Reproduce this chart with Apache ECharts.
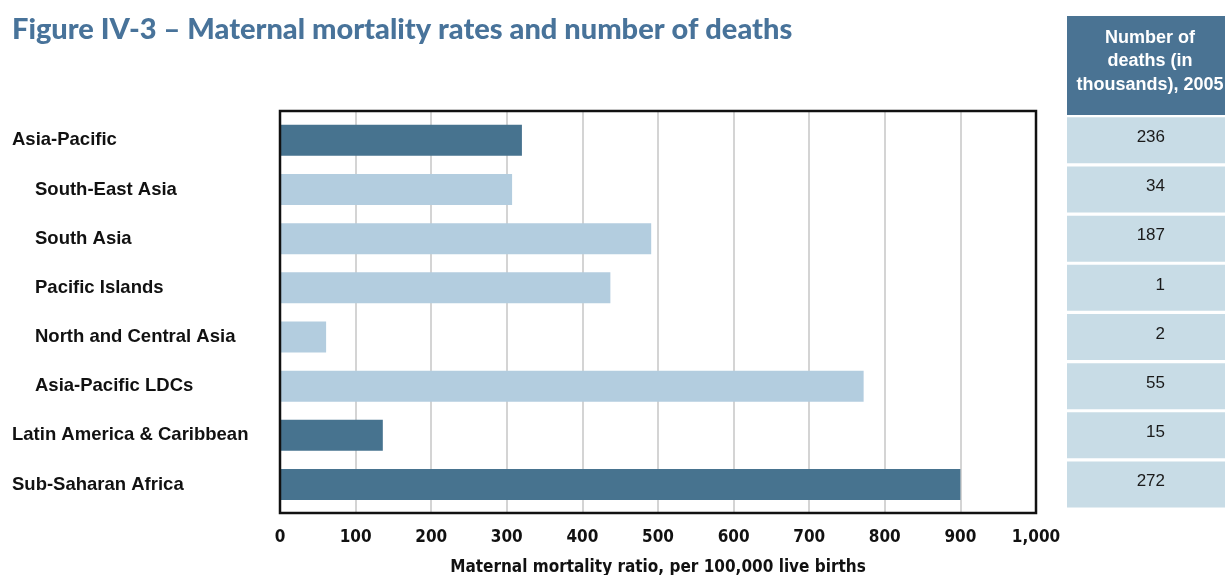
<!DOCTYPE html>
<html><head><meta charset="utf-8">
<script src="https://cdn.jsdelivr.net/npm/echarts@6/dist/echarts.min.js"></script>
<style>html,body{margin:0;padding:0;background:#fff;overflow:hidden}#c{width:1225px;height:575px}</style>
</head><body><div id="c"></div>
<script>
const categories = ['Asia-Pacific','South-East Asia','South Asia','Pacific Islands','North and Central Asia','Asia-Pacific LDCs','Latin America & Caribbean','Sub-Saharan Africa'];
const isSubregion = [false,true,true,true,true,true,false,false];
const mortalityRatio = [320,307,491,437,61,772,136,900];
const deathsThousands = [236,34,187,1,2,55,15,272];
const titleText = 'Figure IV-3 \u2013 Maternal mortality rates and number of deaths';
const xAxisName = 'Maternal mortality ratio, per 100,000 live births';
const tableHeader = 'Number of\ndeaths (in\nthousands), 2005';

const DARK = '#47738f', LIGHT = '#b3cddf', CELL = '#c8dce6', HEAD = '#4a7393';
const NARROW = '"Liberation Sans Narrow","Arial Narrow","DejaVu Sans Condensed",sans-serif';
const SANS = '"Liberation Sans",Arial,Helvetica,sans-serif';

const chart = echarts.init(document.getElementById('c'));
chart.setOption({
  animation: false,
  backgroundColor: '#fff',
  title: {
    text: titleText, left: 12, top: 15, padding: 0,
    textStyle: {fontSize: 29, fontWeight: 900, color: '#48739a', fontFamily: 'Lato,"Open Sans",sans-serif'}
  },
  grid: [
    {left: 280, top: 111, width: 756, height: 402, show: true, borderColor: '#111', borderWidth: 2.5, backgroundColor: 'transparent', z: 5, outerBoundsMode: 'none', containLabel: false},
    {left: 280, top: 115.7, width: 756, height: 393.4, outerBoundsMode: 'none', containLabel: false},
    {left: 1067, top: 115.7, width: 158, height: 393.4, outerBoundsMode: 'none', containLabel: false}
  ],
  xAxis: [
    {gridIndex: 0, type: 'value', min: 0, max: 1000, interval: 100,
     axisLine: {show: false}, axisTick: {show: false},
     axisLabel: {margin: 16, fontSize: 17, fontWeight: 'bold', color: '#111', fontFamily: NARROW,
       formatter: v => v.toLocaleString('en-US')},
     splitLine: {show: true, lineStyle: {color: '#c6c6c6', width: 1.5}},
     name: xAxisName, nameLocation: 'middle', nameGap: 46,
     nameTextStyle: {fontSize: 17, fontWeight: 'bold', color: '#111', fontFamily: NARROW}},
    {gridIndex: 1, type: 'value', min: 0, max: 1000, show: false},
    {gridIndex: 2, type: 'value', min: 0, max: 1, show: false}
  ],
  yAxis: [
    {gridIndex: 0, type: 'value', min: 0, max: 1, show: false},
    {gridIndex: 1, type: 'category', data: categories, inverse: true,
     axisLine: {show: false}, axisTick: {show: false}, splitLine: {show: false},
     axisLabel: {align: 'left', margin: 268,
       formatter: (v, i) => isSubregion[i] ? '{sub|' + v + '}' : '{top|' + v + '}',
       rich: {
         top: {fontSize: 18.5, fontWeight: 'bold', color: '#111', fontFamily: SANS},
         sub: {fontSize: 18.5, fontWeight: 'bold', color: '#111', fontFamily: SANS, padding: [0, 0, 0, 23]}
       }}},
    {gridIndex: 2, type: 'category', data: categories, inverse: true, show: false}
  ],
  graphic: [
    {type: 'rect', shape: {x: 1067, y: 16, width: 160, height: 99}, style: {fill: HEAD}, z: 10},
    {type: 'text', x: 1150, y: 61.5, z: 11,
     style: {text: tableHeader, fill: '#fff', font: 'bold 18px ' + SANS, align: 'center', verticalAlign: 'middle', lineHeight: 23.5}}
  ],
  series: [
    {type: 'bar', xAxisIndex: 1, yAxisIndex: 1, barWidth: 31,
     data: mortalityRatio.map((v, i) => ({value: v, itemStyle: {color: isSubregion[i] ? LIGHT : DARK}}))},
    {type: 'custom', xAxisIndex: 2, yAxisIndex: 2,
     data: deathsThousands.map((d, i) => [0, i, d]),
     encode: {x: 0, y: 1},
     renderItem: function (params, api) {
       const p0 = api.coord([0, api.value(1)]);
       const p1 = api.coord([1, api.value(1)]);
       const band = api.size([0, 1])[1];
       const h = band - 3.2;
       return {type: 'group', children: [
         {type: 'rect', shape: {x: p0[0], y: p0[1] - h / 2, width: p1[0] - p0[0], height: h}, style: {fill: CELL}},
         {type: 'text', x: p0[0] + 98, y: p0[1] - 3,
          style: {text: String(api.value(2)), fill: '#1a1a1a', font: '17px ' + SANS, align: 'right', verticalAlign: 'middle'}}
       ]};
     }}
  ]
});
</script></body></html>
